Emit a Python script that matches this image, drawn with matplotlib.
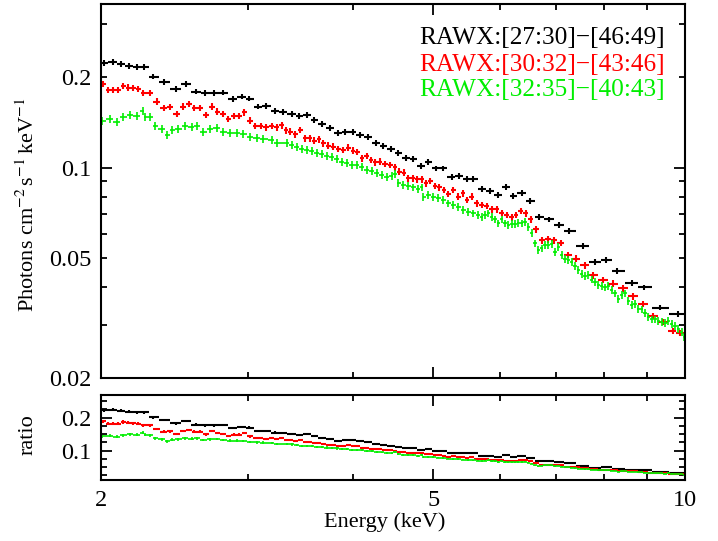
import matplotlib
matplotlib.use("Agg")
import matplotlib.pyplot as plt
import numpy as np
from matplotlib.ticker import FixedLocator, FuncFormatter, NullFormatter, MultipleLocator

plt.rcParams['font.family'] = ['Liberation Serif', 'DejaVu Serif']
plt.rcParams['mathtext.fontset'] = 'stix'

# spectra (keV, photons cm-2 s-1 keV-1)
energy_k = [2.017, 2.066, 2.112, 2.160, 2.207, 2.254, 2.310, 2.379, 2.459, 2.526,
            2.599, 2.664, 2.731, 2.802, 2.875, 2.948, 3.010, 3.086, 3.152, 3.231,
            3.302, 3.383, 3.455, 3.532, 3.601, 3.681, 3.760, 3.846, 3.918, 4.003,
            4.083, 4.172, 4.268, 4.354, 4.444, 4.538, 4.635, 4.730, 4.831, 4.930,
            5.031, 5.137, 5.257, 5.364, 5.479, 5.580, 5.711, 5.843, 5.978, 6.106,
            6.230, 6.375, 6.524, 6.692, 6.881, 7.072, 7.270, 7.556, 7.805, 8.044,
            8.299, 8.634, 8.933, 9.338, 9.818]
flux_k = [0.2226, 0.2248, 0.2213, 0.2180, 0.2159, 0.2159, 0.2009, 0.1929, 0.1828, 0.1899,
          0.1791, 0.1769, 0.1769, 0.1777, 0.1690, 0.1724, 0.1697, 0.1597, 0.1605, 0.1548,
          0.1530, 0.1509, 0.1486, 0.1497, 0.1441, 0.1394, 0.1353, 0.1302, 0.1318, 0.1312,
          0.1285, 0.1262, 0.1211, 0.1181, 0.1152, 0.1122, 0.1075, 0.1067, 0.1013, 0.1047,
          0.0995, 0.0995, 0.0929, 0.0938, 0.0917, 0.0917, 0.0848, 0.0838, 0.0811, 0.0865,
          0.0805, 0.0826, 0.0776, 0.0687, 0.0673, 0.0645, 0.0617, 0.0549, 0.0487, 0.0493,
          0.0454, 0.0414, 0.0400, 0.0343, 0.0326]

energy_r = [2.013, 2.041, 2.069, 2.098, 2.127, 2.156, 2.186, 2.216, 2.247, 2.289,
            2.332, 2.379, 2.419, 2.464, 2.509, 2.549, 2.587, 2.628, 2.671, 2.714,
            2.756, 2.797, 2.841, 2.886, 2.928, 2.969, 3.016, 3.058, 3.106, 3.152,
            3.201, 3.246, 3.291, 3.333, 3.367, 3.414, 3.461, 3.509, 3.557, 3.601,
            3.648, 3.691, 3.743, 3.793, 3.846, 3.900, 3.954, 4.003, 4.054, 4.102,
            4.159, 4.206, 4.255, 4.314, 4.375, 4.436, 4.497, 4.550, 4.610, 4.664,
            4.721, 4.774, 4.840, 4.898, 4.953, 5.021, 5.081, 5.147, 5.209, 5.281,
            5.355, 5.419, 5.479, 5.556, 5.633, 5.711, 5.790, 5.871, 5.952, 6.035,
            6.119, 6.204, 6.278, 6.359, 6.453, 6.536, 6.631, 6.738, 6.861, 6.970,
            7.099, 7.250, 7.405, 7.591, 7.766, 7.971, 8.193, 8.437, 8.673, 8.916,
            9.163, 9.420, 9.667, 9.863]
flux_r = [0.1895, 0.1814, 0.1814, 0.1814, 0.1871, 0.1846, 0.1838, 0.1824, 0.1769, 0.1769,
          0.1659, 0.1577, 0.1589, 0.1509, 0.1597, 0.1626, 0.1577, 0.1577, 0.1497, 0.1597,
          0.1536, 0.1509, 0.1452, 0.1486, 0.1486, 0.1529, 0.1434, 0.1376, 0.1376, 0.1363,
          0.1376, 0.1363, 0.1382, 0.1332, 0.1318, 0.1292, 0.1335, 0.1253, 0.1253, 0.1230,
          0.1243, 0.1206, 0.1184, 0.1175, 0.1154, 0.1145, 0.1166, 0.1139, 0.1130, 0.1075,
          0.1094, 0.1061, 0.1042, 0.1047, 0.1029, 0.1021, 0.1003, 0.0970, 0.0963, 0.0922,
          0.0922, 0.0915, 0.0915, 0.0887, 0.0903, 0.0869, 0.0860, 0.0843, 0.0817, 0.0843,
          0.0801, 0.0822, 0.0781, 0.0801, 0.0761, 0.0751, 0.0746, 0.0727, 0.0727, 0.0708,
          0.0696, 0.0684, 0.0696, 0.0719, 0.0705, 0.0673, 0.0624, 0.0574, 0.0578, 0.0574,
          0.0563, 0.0512, 0.0499, 0.0474, 0.0439, 0.0423, 0.0412, 0.0397, 0.0374, 0.0352,
          0.0321, 0.0307, 0.0287, 0.0282]

energy_g = [2.004, 2.050, 2.088, 2.127, 2.167, 2.207, 2.244, 2.258, 2.289, 2.321,
            2.364, 2.401, 2.430, 2.475, 2.521, 2.568, 2.603, 2.651, 2.701, 2.751,
            2.802, 2.854, 2.908, 2.961, 3.016, 3.072, 3.129, 3.201, 3.246, 3.337,
            3.383, 3.430, 3.478, 3.526, 3.575, 3.625, 3.675, 3.726, 3.777, 3.830,
            3.883, 3.937, 3.992, 4.046, 4.102, 4.159, 4.217, 4.276, 4.335, 4.396,
            4.456, 4.497, 4.538, 4.601, 4.664, 4.730, 4.795, 4.840, 4.862, 4.931,
            4.997, 5.067, 5.137, 5.209, 5.281, 5.355, 5.428, 5.504, 5.580, 5.657,
            5.711, 5.763, 5.816, 5.871, 5.925, 5.978, 6.035, 6.089, 6.146, 6.204,
            6.260, 6.318, 6.375, 6.435, 6.494, 6.555, 6.614, 6.675, 6.738, 6.800,
            6.861, 6.926, 6.989, 7.053, 7.119, 7.185, 7.250, 7.319, 7.385, 7.452,
            7.521, 7.591, 7.659, 7.732, 7.805, 7.874, 7.949, 8.021, 8.095, 8.170,
            8.245, 8.322, 8.399, 8.476, 8.553, 8.634, 8.712, 8.793, 8.876, 8.956,
            9.039, 9.123, 9.207, 9.290, 9.379, 9.463, 9.551, 9.641, 9.728, 9.818,
            9.909, 9.970]
flux_g = [0.1434, 0.1449, 0.1423, 0.1472, 0.1497, 0.1486, 0.1548, 0.1478, 0.1472, 0.1376,
          0.1342, 0.1285, 0.1335, 0.1342, 0.1376, 0.1363, 0.1376, 0.1318, 0.1342, 0.1353,
          0.1318, 0.1308, 0.1308, 0.1295, 0.1268, 0.1253, 0.1243, 0.1236, 0.1211, 0.1211,
          0.1190, 0.1175, 0.1152, 0.1145, 0.1139, 0.1117, 0.1111, 0.1094, 0.1088, 0.1067,
          0.1047, 0.1039, 0.1021, 0.1021, 0.1008, 0.0982, 0.0977, 0.0963, 0.0946, 0.0933,
          0.0938, 0.0953, 0.0891, 0.0876, 0.0869, 0.0860, 0.0848, 0.0860, 0.0801, 0.0811,
          0.0801, 0.0791, 0.0781, 0.0761, 0.0751, 0.0742, 0.0723, 0.0714, 0.0705, 0.0696,
          0.0684, 0.0696, 0.0705, 0.0687, 0.0673, 0.0653, 0.0673, 0.0653, 0.0645, 0.0650,
          0.0650, 0.0656, 0.0653, 0.0661, 0.0636, 0.0608, 0.0560, 0.0532, 0.0539, 0.0553,
          0.0553, 0.0557, 0.0525, 0.0546, 0.0512, 0.0499, 0.0493, 0.0487, 0.0471, 0.0457,
          0.0443, 0.0436, 0.0439, 0.0425, 0.0417, 0.0407, 0.0404, 0.0400, 0.0404, 0.0392,
          0.0382, 0.0367, 0.0377, 0.0382, 0.0361, 0.0349, 0.0352, 0.0340, 0.0338, 0.0328,
          0.0319, 0.0313, 0.0313, 0.0310, 0.0307, 0.0305, 0.0310, 0.0302, 0.0297, 0.0292,
          0.0285, 0.0274]

labels = ['RAWX:[27:30]\u2212[46:49]', 'RAWX:[30:32]\u2212[43:46]', 'RAWX:[32:35]\u2212[40:43]']
colors = ['black', '#ff0000', '#00ee00']
rel_err = [0.022, 0.025, 0.03]
series = [(energy_k, flux_k), (energy_r, flux_r), (energy_g, flux_g)]


def half_widths(e):
    # bin edges halfway (in log) between neighbouring channels
    e = np.asarray(e)
    mids = np.sqrt(e[1:] * e[:-1])
    lo = np.r_[e[0] ** 2 / mids[0], mids]
    hi = np.r_[mids, e[-1] ** 2 / mids[-1]]
    return e - lo, hi - e


fig = plt.figure(figsize=(7.18, 5.41), dpi=100)
ax = fig.add_axes([0.1407, 0.3013, 0.8133, 0.6913])
axr = fig.add_axes([0.1407, 0.1128, 0.8133, 0.1571], sharex=ax)

for (e, f), c, re, lw in zip(series, colors, rel_err, [1.5, 1.5, 1.2]):
    f = np.asarray(f)
    xl, xh = half_widths(e)
    for a in (ax, axr):
        a.errorbar(e, f, xerr=[xl, xh], yerr=re * f, fmt='none', ecolor=c,
                   elinewidth=lw, capsize=0)

ax.set_xscale('log')
ax.set_yscale('log')
ax.set_xlim(2, 10)
ax.set_ylim(0.02, 0.35)
axr.set_ylim(0.011, 0.269)

fs = 16
tfs = 17.5
for a in (ax, axr):
    a.tick_params(which='both', direction='in', top=True, right=True, width=1.3)
    a.tick_params(which='major', length=8)
    a.tick_params(which='minor', length=4)
    for s in a.spines.values():
        s.set_linewidth(1.5)

axr.xaxis.set_major_locator(FixedLocator([2, 5, 10]))
axr.xaxis.set_minor_locator(FixedLocator([3, 4, 6, 7, 8, 9]))
axr.xaxis.set_major_formatter(FuncFormatter(lambda v, p: '%g' % v))
axr.xaxis.set_minor_formatter(NullFormatter())
ax.tick_params(which='both', axis='x', labelbottom=False)

ax.yaxis.set_major_locator(FixedLocator([0.1]))
ax.yaxis.set_minor_locator(FixedLocator([0.02, 0.03, 0.04, 0.05, 0.06, 0.07, 0.08, 0.09, 0.2, 0.3]))
ax.yaxis.set_major_formatter(FuncFormatter(lambda v, p: '%g' % v))
ax.yaxis.set_minor_formatter(FuncFormatter(lambda v, p: '%g' % v if round(v, 3) in (0.02, 0.05, 0.2) else ''))

axr.yaxis.set_major_locator(MultipleLocator(0.1))
axr.yaxis.set_minor_locator(MultipleLocator(0.025))
axr.yaxis.set_major_formatter(FuncFormatter(lambda v, p: '%g' % round(v, 2) if v > 0.05 else ''))

for a in (ax, axr):
    a.tick_params(which='both', labelsize=tfs)
ax.tick_params(which='both', axis='y', pad=7)
axr.tick_params(which='both', axis='y', pad=7)
axr.tick_params(which='major', axis='x', pad=7)

for lab, c, y in zip(labels, colors, [0.909, 0.837, 0.770]):
    ax.text(0.5445, y, lab, color=c, fontsize=18.2, ha='left', va='center',
            transform=ax.transAxes)

fig.text(28 / 718, 1 - 205 / 541, r'Photons cm$^{-2}\,$s$^{-1}\,$keV$^{-1}$',
         rotation=90, ha='center', va='center', fontsize=fs)
fig.text(28 / 718, 1 - 435 / 541, 'ratio', rotation=90, ha='center', va='center', fontsize=fs)
fig.text(385 / 718, 1 - 522 / 541, 'Energy (keV)', ha='center', va='center', fontsize=fs)

fig.savefig('out.png', dpi=100)
